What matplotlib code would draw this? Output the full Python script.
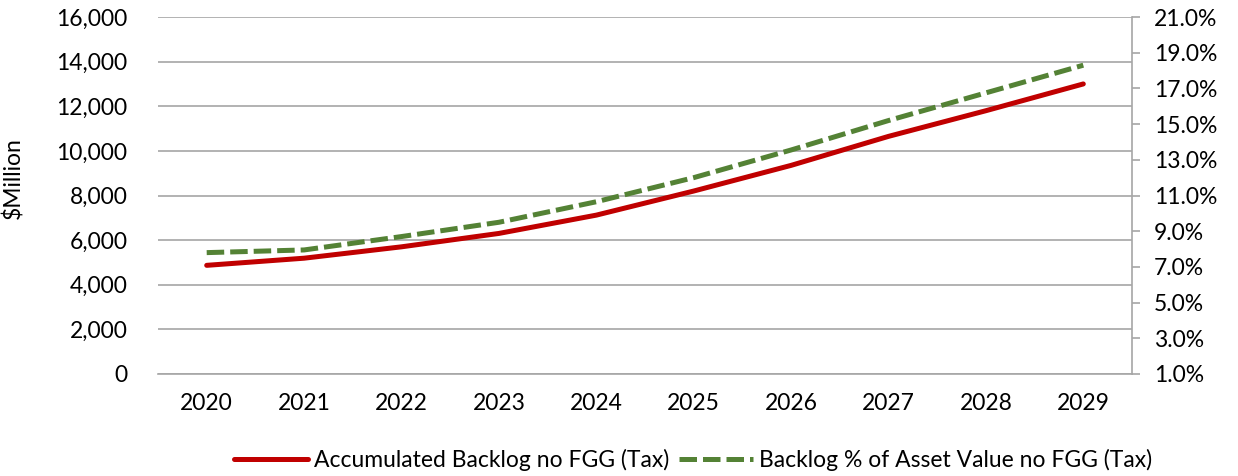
import matplotlib
matplotlib.use("Agg")
import matplotlib.pyplot as plt
from matplotlib.ticker import FuncFormatter

years = ["2020", "2021", "2022", "2023", "2024", "2025", "2026", "2027", "2028", "2029"]
backlog = [4870, 5190, 5700, 6300, 7120, 8200, 9350, 10650, 11800, 13000]
backlog_pct = [7.8, 7.95, 8.7, 9.5, 10.65, 12.0, 13.55, 15.2, 16.75, 18.3]
left_ticks = [0, 2000, 4000, 6000, 8000, 10000, 12000, 14000, 16000]
right_ticks = [1, 3, 5, 7, 9, 11, 13, 15, 17, 19, 21]

plt.rcParams['font.family'] = ['Lato', 'DejaVu Sans']
FS = 16.5

fig = plt.figure(figsize=(12.38, 4.76), dpi=100)
L, R = 158, 1132
ax = fig.add_axes([L/1238, 1 - 374/476, (R-L)/1238, (374-17)/476])
ax2 = ax.twinx()

x = list(range(len(years)))
l1, = ax.plot(x, backlog, color='#c00000', lw=3.6, solid_capstyle='round',
              label='Accumulated Backlog no FGG (Tax)', zorder=3)
l2, = ax2.plot(x, backlog_pct, color='#548235', lw=3.6, dashes=(3.5, 1.2),
               label='Backlog % of Asset Value no FGG (Tax)', zorder=3)

ax.set_xlim(-0.5, len(years) - 0.5)
ax.set_ylim(0, 16000)
ax.set_yticks(left_ticks)
ax.yaxis.set_major_formatter(FuncFormatter(lambda v, p: f"{int(v):,}"))
ax2.set_ylim(1, 21)
ax2.set_yticks(right_ticks)
ax2.yaxis.set_major_formatter(FuncFormatter(lambda v, p: f"{v:.1f}%"))

ax.set_xticks(x)
ax.set_xticklabels(years)
ax.grid(axis='y', color='#a6a6a6', lw=1.2)
ax.set_axisbelow(True)

for a in (ax, ax2):
    for s in a.spines.values():
        s.set_visible(False)
ax.spines['bottom'].set_visible(True)
ax.spines['bottom'].set_color('#a6a6a6')
ax.spines['bottom'].set_linewidth(1.2)
ax2.spines['right'].set_visible(True)
ax2.spines['right'].set_color('#a6a6a6')
ax2.spines['right'].set_linewidth(1.2)

ax.tick_params(axis='y', length=0, pad=22, labelsize=FS, colors='black')
ax.tick_params(axis='x', length=0, pad=14, labelsize=FS)
ax2.tick_params(axis='y', length=6, width=1.2, color='#a6a6a6', pad=10, labelsize=FS)

ax.set_ylabel('$Million', fontsize=FS)
ax.yaxis.set_label_coords(-(L-24)/(R-L), 0.55)

fig.legend(handles=[l1, l2], loc='center', bbox_to_anchor=(693/1238, 1 - 460/476),
           ncol=2, frameon=False, fontsize=FS, handlelength=3.2,
           handletextpad=0.26, columnspacing=0.45)

fig.savefig('out.png', dpi=100)
